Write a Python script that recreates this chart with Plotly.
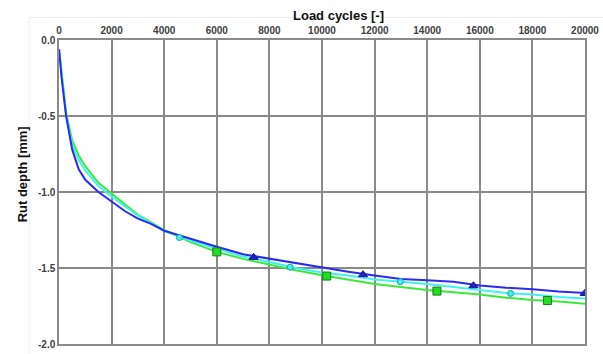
import plotly.graph_objects as go

# Load cycles at which each curve was sampled
cycles = [0, 100, 270, 500, 750, 1000, 1500, 2000, 2500, 3000, 3500, 4000,
          5000, 6000, 7000, 8000, 9000, 10000, 11000, 12000, 13000, 14000,
          15000, 16000, 17000, 18000, 19000, 20000]

# Rut depth [mm] per test
rut_blue = [-0.06, -0.25, -0.50, -0.72, -0.85, -0.92, -1.00, -1.065, -1.125, -1.175,
            -1.21, -1.255, -1.31, -1.36, -1.41, -1.44, -1.47, -1.50, -1.525, -1.55,
            -1.572, -1.58, -1.59, -1.615, -1.63, -1.64, -1.655, -1.665]
rut_cyan = [-0.06, -0.23, -0.49, -0.69, -0.79, -0.86, -0.96, -1.03, -1.095, -1.155,
            -1.205, -1.255, -1.32, -1.375, -1.425, -1.46, -1.50, -1.53, -1.55, -1.575,
            -1.59, -1.605, -1.625, -1.645, -1.665, -1.675, -1.69, -1.70]
rut_green = [-0.06, -0.22, -0.48, -0.66, -0.76, -0.83, -0.94, -1.01, -1.08, -1.15,
             -1.20, -1.25, -1.33, -1.394, -1.44, -1.48, -1.515, -1.548, -1.575, -1.605,
             -1.625, -1.645, -1.66, -1.675, -1.695, -1.71, -1.72, -1.735]

# Marker points along each curve
mk_blue_x = [7400, 11560, 15760, 19990]
mk_blue_y = [-1.43, -1.544, -1.617, -1.667]
mk_cyan_x = [4580, 8790, 12980, 17170]
mk_cyan_y = [-1.30, -1.495, -1.59, -1.667]
mk_green_x = [6000, 10180, 14370, 18570]
mk_green_y = [-1.394, -1.553, -1.652, -1.714]

x_ticks = [0, 2000, 4000, 6000, 8000, 10000, 12000, 14000, 16000, 18000, 20000]
y_ticks = [0.0, -0.5, -1.0, -1.5, -2.0]

BLUE = "#2a2af0"
CYAN = "#3ef2f2"
GREEN = "#3ce83c"

fig = go.Figure()

for ys, col in [(rut_green, GREEN), (rut_cyan, CYAN), (rut_blue, BLUE)]:
    fig.add_trace(go.Scatter(x=cycles, y=ys, mode="lines",
                             line=dict(color=col, width=2), showlegend=False))

fig.add_trace(go.Scatter(x=mk_cyan_x, y=mk_cyan_y, mode="markers", showlegend=False,
                         marker=dict(symbol="circle", size=6, color=CYAN,
                                     line=dict(color="#2a9a9a", width=1))))
fig.add_trace(go.Scatter(x=mk_green_x, y=mk_green_y, mode="markers", showlegend=False,
                         marker=dict(symbol="square", size=8, color="#22dd22",
                                     line=dict(color="#1a7a1a", width=1))))
fig.add_trace(go.Scatter(x=mk_blue_x, y=mk_blue_y, mode="markers", showlegend=False,
                         marker=dict(symbol="triangle-up", size=8, color="#2222cc",
                                     line=dict(color="#10108a", width=1))))

tick_font = dict(family="Liberation Sans, Arial, sans-serif", size=10, color="#404040")

fig.update_layout(
    width=603, height=354,
    margin=dict(l=59, r=16, t=40, b=4),
    paper_bgcolor="white", plot_bgcolor="white",
    font=dict(family="Liberation Sans, Arial, sans-serif"),
    xaxis=dict(
        side="top", range=[0, 20000], tickvals=x_ticks,
        ticktext=[f"<b>{v}</b>" for v in x_ticks],
        tickfont=tick_font, ticks="", showgrid=True,
        gridcolor="#8a8a8a", gridwidth=1.5, zeroline=False,
        showline=True, linecolor="#8a8a8a", linewidth=1.5, mirror=True,
    ),
    yaxis=dict(
        range=[-2.0, 0.0], tickvals=y_ticks,
        ticktext=[f"<b>{v:.1f}</b>" for v in y_ticks],
        tickfont=tick_font, ticks="", showgrid=True,
        gridcolor="#8a8a8a", gridwidth=1.5, zeroline=False,
        showline=True, linecolor="#8a8a8a", linewidth=1.5, mirror=True,
    ),
    annotations=[
        dict(text="<b>Load cycles [-]</b>", xref="paper", yref="paper",
             x=0.532, y=1.0, xanchor="center", yanchor="middle", yshift=25,
             showarrow=False, font=dict(size=13, color="#111111")),
        dict(text="<b>Rut depth [mm]</b>", xref="paper", yref="paper",
             x=0, xanchor="center", xshift=-37, y=0.558, yanchor="middle",
             textangle=-90, showarrow=False,
             font=dict(size=13, color="#111111")),
    ],
    shapes=[
        dict(type="rect", xref="paper", yref="paper",
             x0=-0.057, x1=1.05, y0=-0.2, y1=1.074,
             line=dict(color="#ececec", width=1), layer="below"),
    ],
)

fig.write_html("out.html")
